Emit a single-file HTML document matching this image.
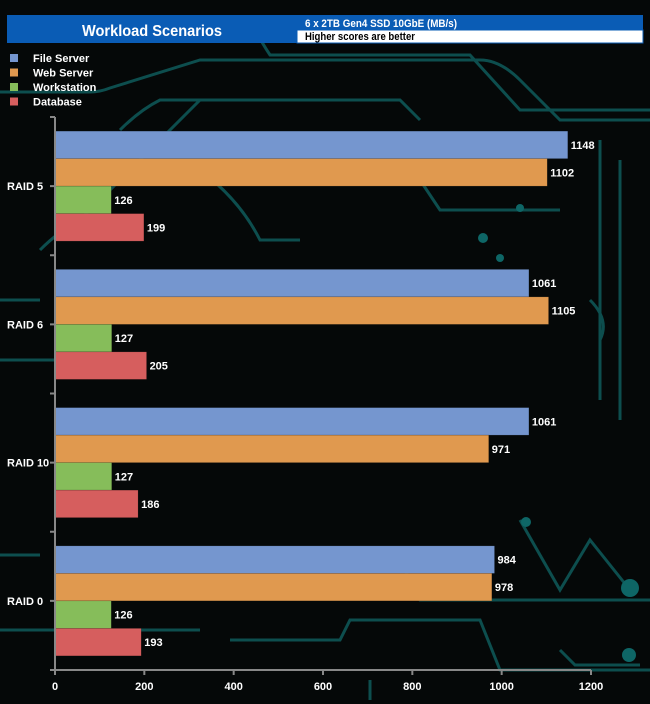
<!DOCTYPE html>
<html><head><meta charset="utf-8"><style>
body{margin:0;width:650px;height:704px;background:#050808;overflow:hidden;font-family:"Liberation Sans",Arial,sans-serif;}
svg{display:block}
</style></head><body>
<svg width="650" height="704" viewBox="0 0 650 704">
<g stroke="#0e5656" stroke-width="3" fill="none" opacity="0.9">
<path d="M0 92 H90 Q100 92 110 88 L200 60 H480 Q500 60 520 80 L560 120 H650"/>
<path d="M250 20 Q260 40 270 55 H470 L520 110 H650"/>
<path d="M120 130 Q140 110 160 100 H400 L420 120"/>
<path d="M0 300 H40 M0 360 H60 M0 555 H40 M0 630 H200"/>
<path d="M40 250 Q60 230 80 220 L200 100"/>
<path d="M600 140 V400 M620 160 V420 M590 300 Q610 320 600 340"/>
<path d="M520 520 L560 590 L590 540 L630 590"/>
<path d="M230 640 H340 L350 620 H480 L500 670 H650"/>
<path d="M420 180 L440 210 H560 M400 560 L420 600 H650"/>
<path d="M200 170 Q240 200 260 240 L300 240"/>
<path d="M370 680 V700 M560 650 L575 665 H640"/>
</g>
<g fill="#0e6666">
<circle cx="483" cy="238" r="5"/><circle cx="500" cy="258" r="4"/><circle cx="630" cy="588" r="9"/><circle cx="629" cy="655" r="7"/><circle cx="526" cy="522" r="5"/><circle cx="228" cy="146" r="5"/><circle cx="520" cy="208" r="4"/>
</g>
<rect x="7" y="15" width="290" height="28" fill="#0a5cb5"/>
<text x="82" y="36" fill="#fff" font-size="16" font-weight="bold" textLength="140" lengthAdjust="spacingAndGlyphs">Workload Scenarios</text>
<rect x="297" y="15" width="346" height="15" fill="#0a5cb5"/>
<rect x="297" y="30" width="346" height="13" fill="#fff" stroke="#0a5cb5"/>
<text x="305" y="27" fill="#fff" font-size="11" font-weight="bold" textLength="152" lengthAdjust="spacingAndGlyphs">6 x 2TB Gen4 SSD 10GbE (MB/s)</text>
<text x="305" y="40" fill="#000" font-size="11" font-weight="bold" textLength="110" lengthAdjust="spacingAndGlyphs">Higher scores are better</text>
<g id="legend"></g>
<g id="plot"></g>
</svg>
<script>
const categories=["RAID 5","RAID 6","RAID 10","RAID 0"];
const seriesNames=["File Server","Web Server","Workstation","Database"];
const fileServer=[1148,1061,1061,984];
const webServer=[1102,1105,971,978];
const workstation=[126,127,127,126];
const database=[199,205,186,193];
const ticks=[0,200,400,600,800,1000,1200];
const colors=["#7596cf","#e0994f","#86bd5a","#d65e5e"];
const series=[fileServer,webServer,workstation,database];
const NS="http://www.w3.org/2000/svg";
function mk(t,a,p){const e=document.createElementNS(NS,t);for(const k in a)e.setAttribute(k,a[k]);p.appendChild(e);return e;}
const x0=55,x1=591,xMax=1200,yTop=117,yBot=670;
const xs=v=>x0+(v/xMax)*(x1-x0);
const band=(yBot-yTop)/categories.length,bh=27.5,pad=(band-4*bh)/2;
const plot=document.getElementById('plot'),leg=document.getElementById('legend');
seriesNames.forEach((n,i)=>{
 const r=mk('rect',{x:10,y:54+i*14.5,width:8,height:8,fill:colors[i]},leg);
 
 
 const t=mk('text',{x:33,y:62+i*14.5,fill:'#fff','font-size':11,'font-weight':'bold'},leg);t.textContent=n;
 
 
});
categories.forEach((c,ci)=>{
 const gy=yTop+ci*band+pad;
 series.forEach((s,si)=>{
  const y=gy+si*bh;
  const r=mk('rect',{x:x0,y:y,width:xs(s[ci])-x0,height:bh,fill:colors[si],stroke:'rgba(0,0,0,0.25)','stroke-width':0.5},plot);
  
  
  const t=mk('text',{x:xs(s[ci])+3,y:y+bh/2+4,fill:'#fff','font-size':11,'font-weight':'bold'},plot);t.textContent=s[ci];
  
  
 });
 const l=mk('text',{x:7,y:yTop+(ci+0.5)*band+4,fill:'#fff','font-size':11,'font-weight':'bold'},plot);l.textContent=c;
 
 
 mk('line',{x1:x0-5,x2:x0,y1:yTop+(ci+0.5)*band,y2:yTop+(ci+0.5)*band,stroke:'#888','stroke-width':2},plot);
 mk('line',{x1:x0-5,x2:x0,y1:yTop+ci*band,y2:yTop+ci*band,stroke:'#888','stroke-width':2},plot);
});
const ya=mk('line',{x1:x0,x2:x0,y1:yTop,y2:yBot,stroke:'#888','stroke-width':2},plot);


const xa=mk('line',{x1:x0-5,x2:x1,y1:yBot,y2:yBot,stroke:'#888','stroke-width':2},plot);


ticks.forEach(v=>{
 mk('line',{x1:xs(v),x2:xs(v),y1:yBot,y2:yBot+5,stroke:'#888','stroke-width':2},plot);
 const t=mk('text',{x:xs(v),y:690,fill:'#fff','font-size':11,'font-weight':'bold','text-anchor':'middle'},plot);t.textContent=v;
 
 
});
</script>
</body></html>
